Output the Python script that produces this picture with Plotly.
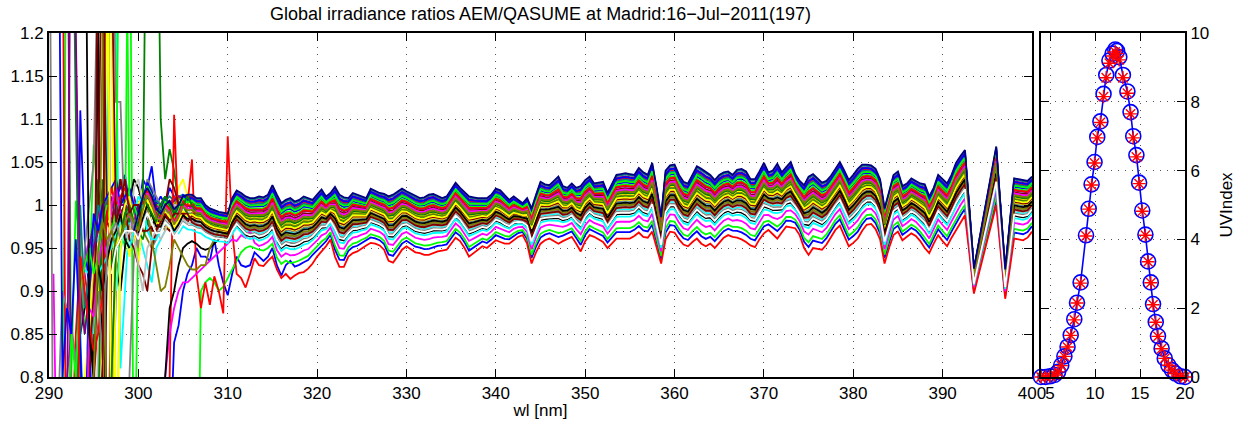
import numpy as np
import plotly.graph_objects as go

# ---------------- data ----------------
wl_start, wl_stop, wl_step = 290.0, 400.0, 0.5
band_start = 300.0   # first wavelength of the common band curves

# upper envelope of the ratio band (300.0 .. 400.0 nm, 0.5 nm step)
top_curve = [
    0.990, 1.010, 1.030, 1.020, 1.000, 0.995, 1.010, 1.005, 0.990, 1.000,
    1.015, 1.010, 1.012, 1.008, 1.008, 1.000, 0.996, 0.994, 0.992, 0.991,
    0.990, 1.008, 1.017, 1.014, 1.010, 1.008, 1.008, 1.010, 1.009, 1.012,
    1.023, 1.012, 1.002, 1.006, 1.008, 1.004, 1.006, 1.010, 1.008, 1.006,
    1.012, 1.018, 1.010, 1.014, 1.021, 1.012, 1.009, 1.008, 1.014, 1.012,
    1.010, 1.008, 1.019, 1.016, 1.014, 1.013, 1.010, 1.012, 1.016, 1.019,
    1.016, 1.013, 1.010, 1.008, 1.009, 1.012, 1.013, 1.010, 1.008, 1.010,
    1.018, 1.026, 1.020, 1.015, 1.010, 1.009, 1.008, 1.008, 1.008, 1.012,
    1.019, 1.017, 1.012, 1.006, 1.010, 1.006, 1.002, 1.008, 0.996, 1.012,
    1.027, 1.024, 1.023, 1.028, 1.033, 1.022, 1.020, 1.025, 1.020, 1.022,
    1.029, 1.033, 1.025, 1.026, 1.027, 1.014, 1.025, 1.035, 1.036, 1.037,
    1.036, 1.035, 1.043, 1.038, 1.035, 1.049, 1.020, 0.986, 1.040, 1.046,
    1.047, 1.035, 1.027, 1.025, 1.035, 1.045, 1.042, 1.038, 1.035, 1.029,
    1.035, 1.038, 1.039, 1.035, 1.041, 1.042, 1.039, 1.030, 1.030, 1.039,
    1.049, 1.038, 1.040, 1.048, 1.038, 1.044, 1.050, 1.036, 1.028, 1.023,
    1.033, 1.036, 1.031, 1.026, 1.028, 1.034, 1.042, 1.050, 1.040, 1.029,
    1.035, 1.042, 1.047, 1.047, 1.046, 1.042, 1.030, 0.996, 1.015, 1.035,
    1.039, 1.022, 1.025, 1.031, 1.028, 1.025, 1.024, 1.010, 1.020, 1.035,
    1.030, 1.025, 1.035, 1.049, 1.057, 1.064, 0.995, 0.926, 0.954, 0.983,
    1.011, 1.040, 1.068, 0.996, 0.925, 0.978, 1.031, 1.030, 1.029, 1.028,
    1.033,
]

# lower envelope of the ratio band (300.0 .. 400.0 nm, 0.5 nm step)
bottom_curve = [
    0.940, 0.955, 0.965, 0.950, 0.945, 0.950, 0.960, 0.955, 0.945, 0.950,
    0.955, 0.952, 0.950, 0.948, 0.946, 0.944, 0.942, 0.940, 0.940, 0.940,
    0.938, 0.945, 0.952, 0.945, 0.938, 0.936, 0.938, 0.932, 0.935, 0.938,
    0.942, 0.925, 0.918, 0.922, 0.918, 0.920, 0.922, 0.925, 0.928, 0.935,
    0.940, 0.946, 0.952, 0.960, 0.940, 0.928, 0.928, 0.940, 0.944, 0.946,
    0.950, 0.953, 0.956, 0.955, 0.953, 0.948, 0.935, 0.933, 0.940, 0.948,
    0.952, 0.948, 0.945, 0.944, 0.942, 0.942, 0.944, 0.946, 0.947, 0.948,
    0.955, 0.962, 0.958, 0.950, 0.940, 0.944, 0.948, 0.952, 0.950, 0.954,
    0.959, 0.957, 0.955, 0.955, 0.959, 0.963, 0.965, 0.955, 0.932, 0.945,
    0.955, 0.959, 0.961, 0.958, 0.955, 0.958, 0.961, 0.963, 0.955, 0.946,
    0.958, 0.965, 0.963, 0.960, 0.957, 0.950, 0.955, 0.961, 0.961, 0.961,
    0.961, 0.964, 0.968, 0.963, 0.962, 0.969, 0.950, 0.932, 0.960, 0.969,
    0.968, 0.960, 0.954, 0.952, 0.957, 0.961, 0.955, 0.952, 0.955, 0.950,
    0.956, 0.962, 0.965, 0.963, 0.962, 0.960, 0.957, 0.953, 0.951, 0.960,
    0.967, 0.971, 0.966, 0.961, 0.968, 0.975, 0.974, 0.973, 0.965, 0.950,
    0.942, 0.950, 0.949, 0.948, 0.954, 0.963, 0.971, 0.976, 0.965, 0.952,
    0.956, 0.961, 0.970, 0.977, 0.978, 0.972, 0.960, 0.932, 0.950, 0.965,
    0.969, 0.959, 0.963, 0.967, 0.964, 0.958, 0.950, 0.944, 0.955, 0.965,
    0.958, 0.952, 0.962, 0.971, 0.980, 0.988, 0.943, 0.897, 0.918, 0.939,
    0.960, 0.981, 1.000, 0.945, 0.891, 0.925, 0.961, 0.960, 0.959, 0.962,
    0.969,
]

# one entry per measured spectrum: colour, position inside the band (0 = top, 1 = bottom),
# first wavelength of its own noisy short-wave part, and that part's values
line_colors = [
    "#0000ff", "#00ff00", "#ff0000", "#00ffff", "#ff00ff", "#ffff00", "#000000", "#808080",
    "#008000", "#800000", "#808000", "#008080", "#800080", "#c0c0c0", "#0000ff", "#00ff00",
    "#ff0000", "#00ffff", "#ff00ff", "#ffff00", "#000000", "#808080", "#008000", "#800000",
    "#808000", "#008080", "#800080", "#c0c0c0", "#0000ff", "#00ff00", "#ff0000", "#00ffff",
    "#ff00ff", "#ffff00", "#000000", "#808080", "#008000", "#800000", "#808000", "#ffffff",
    "#000080",
]
line_band_pos = [
    0.14, 0.17, 0.08, 0.44, 0.11, 0.32, 0.29, 0.42,
    0.26, 0.23, 0.34, 0.02, 0.05, 0.46, 0.90, 0.84,
    1.00, 0.55, 0.74, 0.40, 0.62, 0.50, 0.36, 0.39,
    0.48, 0.10, 0.20, 0.53, 0.06, 0.12, 0.19, 0.66,
    0.25, 0.37, 0.45, 0.58, 0.30, 0.52, 0.28, 0.60,
    0.00,
]
head_start = [
    293.0, 291.5, 291.5, 293.0, 290.5, 295.5, 293.5, 290.0,
    292.5, 294.5, 295.5, 292.5, 292.0, 297.0, 303.5, 306.5,
    303.5, 297.5, 302.5, 294.0, 302.5, 299.0, 295.5, 295.0,
    296.0, 293.0, 292.0, 295.0, 291.0, 292.0, 293.0, 295.0,
    294.0, 296.5, 294.0, 295.5, 297.0, 296.0, 295.0, 297.0,
    299.5,
]
head_values = [
    [0.60, 1.11, 0.96, 0.90, 0.60, 0.80, 0.99, 1.00, 0.98, 1.01, 1.02, 1.035, 1.00, 0.99, 0.985,
     1.03, 1.02, 1.045, 1.00, 1.01, 1.00, 1.02, 1.01, 1.00, 1.005, 1.01],
    [0.60, 1.50, 0.80, 1.005, 0.95, 0.85, 0.90, 1.07, 1.00, 0.95, 1.00, 1.02, 1.00, 0.98, 0.95,
     1.50, 0.60, 0.98, 1.00, 1.01, 0.99, 1.00, 1.00, 0.99, 1.00, 1.005, 1.00, 1.00, 1.005],
    [1.40, 0.50, 0.70, 0.85, 0.94, 0.92, 0.88, 0.80, 0.86, 0.95, 0.98, 1.00, 1.02, 1.03, 1.00,
     0.99, 0.96, 0.98, 1.00, 0.99, 1.01, 1.00, 0.99, 0.98, 1.00, 1.01, 1.00, 1.005, 1.01],
    [0.80, 0.90, 0.925, 0.92, 0.95, 0.96, 0.98, 1.00, 1.50, 1.20, 0.81, 0.90, 0.99, 1.01, 0.97,
     0.95, 0.93, 0.91, 0.95, 0.96, 0.97, 0.99, 0.98, 0.99, 1.00],
    [0.92, 0.60, 0.70, 0.80, 0.85, 0.82, 0.88, 0.93, 0.96, 0.95, 0.99, 1.02, 1.01, 0.99, 0.98,
     1.00, 1.01, 1.00, 0.99, 0.98, 0.99, 1.00, 1.01, 0.995, 1.00, 1.005, 1.00, 1.005, 1.01, 1.008],
    [0.80, 0.90, 1.30, 1.20, 0.70, 0.95, 0.97, 0.94, 0.99, 1.00, 1.02, 1.00, 0.98, 0.97, 1.00,
     0.98, 0.97, 0.99, 1.02, 1.03, 1.01, 0.99],
    [0.85, 0.88, 0.90, 0.80, 1.20, 0.70, 0.93, 0.935, 0.935, 0.90, 0.95, 1.00, 1.03, 1.02, 1.00,
     0.98, 0.97, 0.99, 1.00, 0.99, 0.98, 0.99, 1.00, 1.00, 1.00],
    [1.50, 0.60, 0.75, 0.90, 0.88, 0.86, 0.82, 0.85, 0.95, 1.00, 1.05, 1.30, 1.60, 1.60, 1.40,
     1.12, 1.12, 0.96, 0.99, 0.98, 0.95, 1.00, 1.03, 1.02, 1.01, 1.00, 1.00, 0.99, 1.00, 0.99,
     1.00, 0.99],
    [1.50, 1.105, 0.80, 0.70, 0.85, 0.95, 1.03, 1.00, 0.98, 0.97, 0.95, 0.97, 0.99, 0.98, 0.97,
     0.96, 1.00, 1.50, 1.30, 1.50, 1.10, 1.03, 1.065, 1.04, 1.00, 1.00, 1.01, 1.00],
    [0.80, 0.90, 1.00, 1.40, 0.60, 0.95, 1.00, 1.03, 1.00, 0.97, 0.96, 0.98, 0.99, 0.98, 0.97,
     0.97, 0.98, 0.975, 0.97, 0.98, 0.99, 1.00],
    [0.80, 1.20, 1.50, 0.70, 0.90, 0.96, 0.98, 0.97, 1.00, 0.99, 0.97, 0.96, 0.95, 0.97, 0.98,
     0.97, 0.99, 1.00, 1.01, 1.00],
    [1.50, 1.16, 0.85, 0.70, 0.92, 0.95, 0.97, 0.99, 1.00, 0.98, 0.99, 1.01, 1.00, 0.99, 0.98,
     0.99, 1.00, 0.995, 1.00, 1.005, 1.00, 1.005, 1.01, 1.005, 1.01, 1.012, 1.01],
    [1.60, 0.60, 0.75, 0.90, 0.93, 0.95, 0.98, 1.00, 0.97, 0.99, 1.02, 1.00, 0.98, 0.99, 1.00,
     1.01, 0.99, 1.00, 1.01, 1.00, 0.99, 1.00, 1.01, 1.00, 1.005, 1.01, 1.008, 1.01],
    [0.80, 0.95, 0.98, 0.97, 0.96, 1.02, 1.03, 1.00, 0.99, 0.98, 0.97, 0.96, 0.97, 0.99, 1.00,
     1.00, 0.99, 1.00],
    [0.70, 0.84, 0.86, 0.90, 0.92, 0.93, 0.95, 0.94, 0.94, 0.935, 0.96, 0.93, 0.91, 0.895, 0.92,
     0.94, 0.93, 0.928, 0.93, 0.945, 0.94, 0.935, 0.94, 0.95, 0.93, 0.918, 0.93, 0.935],
    [0.50, 0.90, 0.91, 0.915, 0.91, 0.90, 0.905, 0.915, 0.925, 0.935, 0.945, 0.95, 0.952, 0.95,
     0.948, 0.947, 0.95, 0.955],
    [0.80, 1.105, 0.97, 0.98, 1.00, 1.053, 0.92, 0.88, 0.91, 0.884, 0.917, 0.90, 0.874, 1.08,
     0.97, 0.92, 0.915, 0.904, 0.92, 0.938, 0.93, 0.929, 0.935, 0.94, 0.925, 0.915, 0.92, 0.914,
     0.918, 0.921, 0.922, 0.926, 0.932, 0.94, 0.946, 0.952, 0.96, 0.94],
    [0.90, 0.95, 0.97, 0.98, 0.99, 1.01, 1.00, 0.97, 0.96, 0.965, 0.97, 0.98, 0.985, 0.99, 0.985,
     0.98, 0.98],
    [0.60, 0.80, 0.85, 0.88, 0.90, 0.91, 0.91, 0.915, 0.92, 0.925, 0.93, 0.935, 0.94, 0.945,
     0.95, 0.955, 0.96, 0.958, 0.965, 0.962, 0.97],
    [0.80, 0.85, 0.95, 0.90, 0.80, 1.20, 1.50, 0.60, 0.95, 0.99, 1.00, 0.97, 0.93],
    [0.50, 0.80, 0.88, 0.90, 0.93, 0.95, 0.955, 0.958, 0.955, 0.95, 0.948, 0.95, 0.955, 0.96,
     0.965],
    [0.80, 0.94, 0.97, 0.99, 1.00, 0.95, 0.96, 0.99, 1.00, 0.98, 0.97, 0.98, 0.99, 0.99],
    [0.75, 1.03, 0.95, 0.93, 0.96, 0.99, 1.00, 0.98, 1.00, 0.97, 0.96, 0.98, 0.99, 0.99, 1.00,
     1.01, 1.00, 0.99, 1.00, 1.00],
    [0.70, 1.40, 1.30, 0.98, 0.97, 1.03, 0.99, 1.00, 0.96, 0.95, 0.93, 0.92, 0.90, 0.95, 0.97,
     0.99, 1.00, 1.03, 1.02, 1.00, 0.99, 0.98],
    [1.20, 0.60, 0.80, 0.95, 0.97, 0.99, 1.00, 0.98, 0.97, 0.99, 1.00, 0.96, 0.93, 0.90, 0.905,
     0.93, 0.96, 0.95, 0.94, 0.93, 0.925, 0.925, 0.93, 0.93, 0.95, 0.96, 0.97],
    [0.70, 1.00, 0.88, 0.92, 0.95, 1.00, 0.98, 1.01, 1.00, 0.99, 0.98, 1.00, 1.01, 0.99],
    [0.70, 1.50, 1.20, 0.90, 0.85, 0.90, 0.95, 0.97, 1.00, 0.99, 1.01, 0.98, 1.00, 1.00, 0.99,
     0.98, 1.00, 0.995, 1.00, 1.00, 0.99, 1.00, 1.005],
    [0.60, 0.85, 0.90, 0.92, 0.96, 0.98, 0.99, 0.96, 0.97, 0.96, 0.93, 0.90, 0.95, 0.96],
    [1.50, 0.80, 0.88, 0.85, 0.96, 0.84, 0.70, 0.90, 0.99, 0.97, 1.00, 1.01, 1.02, 1.03, 1.00,
     1.01, 1.02, 1.00],
    [0.70, 0.85, 0.80, 0.90, 0.93, 0.95, 0.92, 0.94, 0.98, 1.00, 0.97, 0.99, 1.50, 1.50, 0.99,
     1.00],
    [0.60, 0.94, 0.90, 0.86, 0.83, 0.85, 0.90, 0.99, 1.02, 1.00, 1.01, 1.02, 1.00],
    [0.85, 0.92, 0.93, 0.94, 0.95, 0.97, 0.98, 0.96, 0.95, 0.97, 0.99, 1.00, 0.97, 0.96, 0.96,
     0.97, 0.98, 0.975, 0.97],
    [0.60, 0.88, 0.87, 0.93, 0.96, 0.94, 1.00, 1.02, 0.99, 0.98, 0.99, 0.97, 0.96, 0.99],
    [1.50, 0.60, 0.95, 0.97, 1.00, 1.01, 0.98, 0.97],
    [1.50, 0.85, 0.80, 0.93, 0.90, 0.935, 0.96, 0.97, 0.99, 0.96, 0.95],
    [0.90, 0.82, 0.95, 0.97, 0.98, 0.96, 0.99, 0.995, 0.97],
    [0.80, 0.95, 0.96, 0.99, 1.00, 0.98, 0.97, 1.01, 1.00, 0.99, 0.98, 1.00, 1.01, 1.00, 0.99,
     1.00, 1.00, 1.01, 1.00],
    [0.80, 1.60, 1.30, 0.98, 1.00, 1.03, 0.99, 1.00, 1.00, 0.97, 0.97, 0.975, 0.97, 0.98, 0.99,
     0.98, 0.99, 0.99, 0.99, 0.99],
    [0.80, 0.95, 0.98, 0.96, 0.97, 0.95, 0.96, 0.98, 0.99, 0.98, 0.97],
    [0.92, 0.95, 0.96, 0.97, 0.97, 0.97],
    [0.97, 0.99, 1.01, 1.02, 1.01, 0.995, 0.99, 1.00, 1.005, 0.995, 1.00, 1.01, 1.012],
]

# UV index through the day (hours UTC)
uv_hours = [4.0, 4.5, 5.0, 5.5, 5.9, 6.25, 6.6, 6.95, 7.3, 7.7, 8.0, 8.4, 9.0, 9.3, 9.62, 9.95,
            10.25, 10.6, 10.95, 11.25, 11.6, 11.95, 12.25, 12.45, 12.7, 13.1, 13.6, 13.95, 14.25,
            14.6, 14.9, 15.25, 15.6, 15.9, 16.2, 16.45, 16.75, 17.0, 17.4, 17.75, 18.15, 18.55,
            18.95, 19.5, 20.0]
uv_aem = [0.0, 0.0, 0.02, 0.06, 0.15, 0.34, 0.6, 0.88, 1.22, 1.68, 2.16, 2.75, 4.12, 4.89, 5.6,
          6.25, 6.98, 7.43, 8.23, 8.78, 9.2, 9.4, 9.52, 9.48, 9.3, 8.78, 8.3, 7.7, 7.0, 6.45,
          5.65, 4.84, 4.14, 3.36, 2.75, 2.12, 1.6, 1.19, 0.83, 0.54, 0.34, 0.2, 0.1, 0.02, 0.0]
uv_qasume = [0.0, 0.0, 0.02, 0.06, 0.15, 0.33, 0.6, 0.87, 1.21, 1.66, 2.15, 2.73, 4.1, 4.88, 5.58,
             6.22, 6.95, 7.4, 8.15, 8.7, 9.12, 9.33, 9.45, 9.4, 9.22, 8.7, 8.25, 7.65, 6.95, 6.4,
             5.62, 4.82, 4.12, 3.35, 2.74, 2.1, 1.59, 1.18, 0.82, 0.54, 0.34, 0.2, 0.1, 0.02, 0.0]

x_ticks = [290, 300, 310, 320, 330, 340, 350, 360, 370, 380, 390, 400]
y_ticks = [0.8, 0.85, 0.9, 0.95, 1.0, 1.05, 1.1, 1.15, 1.2]
y_tick_text = ["0.8", "0.85", "0.9", "0.95", "1", "1.05", "1.1", "1.15", "1.2"]
uv_x_ticks = [5, 10, 15, 20]
uv_y_ticks = [0, 2, 4, 6, 8, 10]

title_text = "Global irradiance ratios AEM/QASUME at Madrid:16\u2212Jul\u22122011(197)"

# ---------------- build ----------------
W, H = 1248, 428
FONT = "Liberation Sans, Arial, Helvetica, sans-serif"
FS = 17

wl = np.round(np.arange(wl_start, wl_stop + wl_step / 2, wl_step), 2)
T = np.array(top_curve)
B = np.array(bottom_curve)
i_band = int(round((band_start - wl_start) / wl_step))

fig = go.Figure()
for col, pos, hs, hv in zip(line_colors, line_band_pos, head_start, head_values):
    y = np.full(wl.size, np.nan)
    mix = T - pos * (T - B)
    i0 = int(round((hs - wl_start) / wl_step))
    i1 = i0 + len(hv)
    j = max(i1, i_band)
    y[j:] = mix[j - i_band:]
    y[i0:i1] = hv
    fig.add_trace(go.Scatter(x=wl, y=y, mode="lines", line=dict(color=col, width=1.8),
                             xaxis="x", yaxis="y", showlegend=False, hoverinfo="skip"))

fig.add_trace(go.Scatter(x=uv_hours, y=uv_aem, mode="lines+markers",
                         line=dict(color="#0000ff", width=1.6),
                         marker=dict(symbol="circle-open", size=15, color="#0000ff",
                                     line=dict(width=1.6, color="#0000ff")),
                         xaxis="x2", yaxis="y2", showlegend=False, cliponaxis=False))
fig.add_trace(go.Scatter(x=uv_hours, y=uv_qasume, mode="markers",
                         marker=dict(symbol="asterisk-open", size=11, color="#ff0000",
                                     line=dict(width=1.4, color="#ff0000")),
                         xaxis="x2", yaxis="y2", showlegend=False, cliponaxis=False))

x0, x1 = 49 / W, 1032 / W
u0, u1 = 1041 / W, 1185 / W
yb, yt = (H - 377) / H, (H - 33) / H

axis_common = dict(showline=True, linecolor="black", linewidth=2, mirror="ticks",
                   ticks="inside", ticklen=8, tickwidth=1.2, tickcolor="black",
                   showgrid=True, gridcolor="#555555", gridwidth=1, griddash="1px,6px",
                   zeroline=False, automargin=False,
                   tickfont=dict(family=FONT, size=FS, color="black"))

fig.update_layout(
    width=W, height=H,
    margin=dict(l=0, r=0, t=0, b=0, autoexpand=False),
    paper_bgcolor="white", plot_bgcolor="white",
    font=dict(family=FONT, size=FS, color="black"),
    xaxis=dict(domain=[x0, x1], range=[290, 400], tickvals=x_ticks, anchor="y",
               title=dict(text="wl [nm]", font=dict(family=FONT, size=FS), standoff=2),
               **axis_common),
    yaxis=dict(domain=[yb, yt], range=[0.8, 1.2], tickvals=y_ticks, ticktext=y_tick_text,
               anchor="x", **axis_common),
    xaxis2=dict(domain=[u0, u1], range=[4, 20], tickvals=uv_x_ticks, anchor="y2",
                **axis_common),
    yaxis2=dict(domain=[yb, yt], range=[0, 10], tickvals=uv_y_ticks, anchor="x2",
                side="right",
                title=dict(text="UVIndex", font=dict(family=FONT, size=FS), standoff=12),
                **axis_common),
    annotations=[dict(text=title_text, x=(x0 + x1) / 2, y=1 - 14 / H, xref="paper",
                      yref="paper", xanchor="center", yanchor="middle", showarrow=False,
                      font=dict(family=FONT, size=18, color="black"))],
)

fig.write_html("out.html")
